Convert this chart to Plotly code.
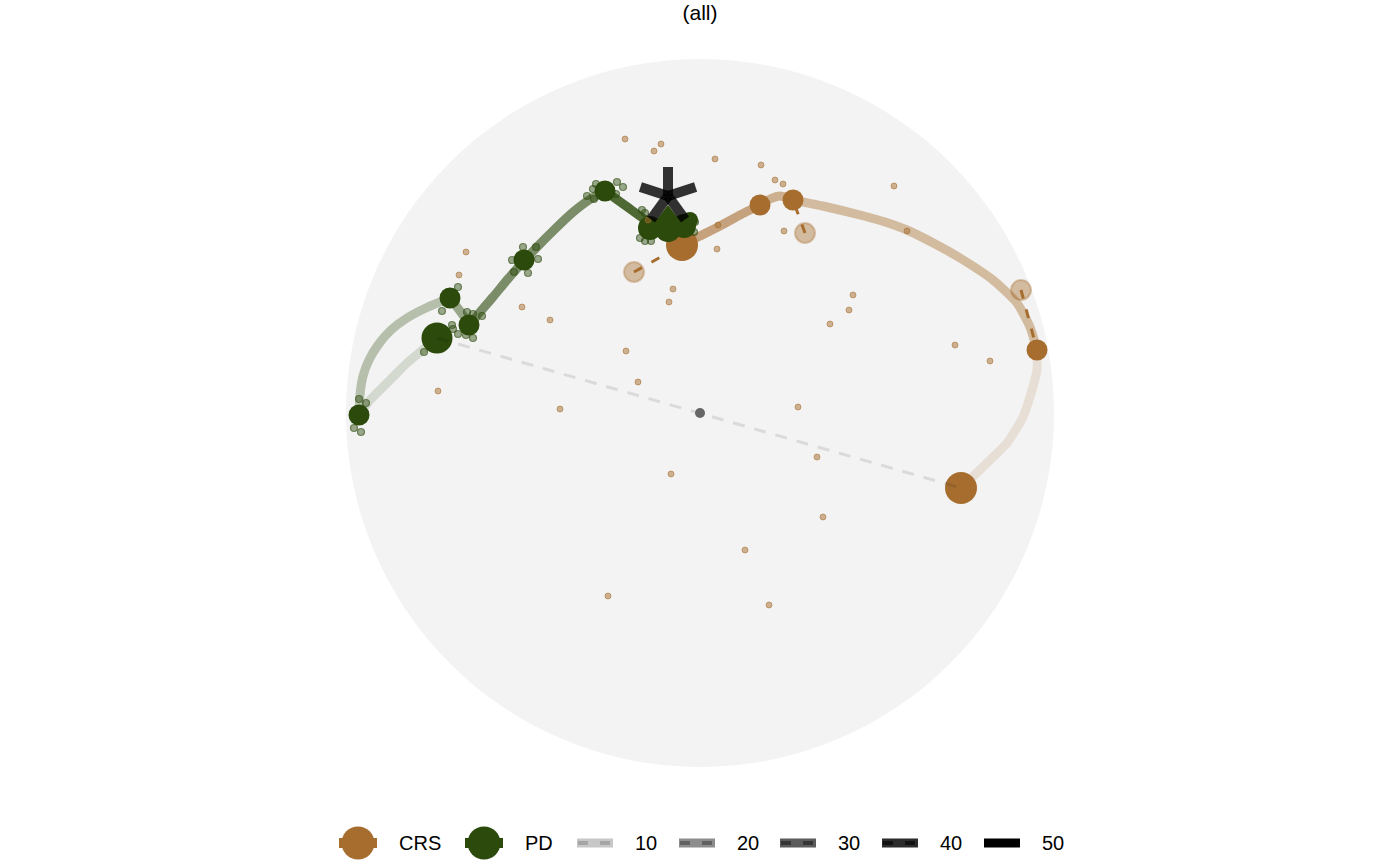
import math
import plotly.graph_objects as go

# ---------------- data (embedding units, disc radius = 354) ----------------
DISC_RADIUS = 354
TITLE = "(all)"

# PD trajectory pieces (fading along the path)
PD_A_X = [-95, -74, -53, -40]
PD_A_Y = [222, 207, 192, 185]
PD_B_X = [-95, -111, -128, -145, -162, -178, -193, -207, -220, -230]
PD_B_Y = [222, 213, 200, 184, 167, 150, 133, 116, 101, 88]
PD_C_X = [-230, -240, -250]
PD_C_Y = [88, 102, 115]
PD_D_X = [-250, -272, -293, -309, -322, -331, -337, -340, -341]
PD_D_Y = [115, 106, 95, 83, 68, 53, 37, 18, -2]
PD_E_X = [-341, -330, -317, -305, -293, -275, -263]
PD_E_Y = [-2, 13, 26, 38, 50, 65, 75]
PD_ALPHA = [0.82, 0.6, 0.45, 0.3, 0.15]

# CRS trajectory pieces
CRS_A_X = [-18, 0, 20, 40, 60]
CRS_A_Y = [168, 177, 187, 198, 208]
CRS_B_X = [60, 70, 80, 93]
CRS_B_Y = [208, 214, 217, 213]
CRS_C_X = [93, 127, 160, 185, 207, 237, 260, 293, 317, 330, 337]
CRS_C_Y = [213, 206, 198, 191, 183, 168, 155, 133, 110, 86, 63]
CRS_D_X = [337, 337, 332, 323, 307, 287, 261]
CRS_D_Y = [63, 43, 23, -4, -30, -50, -75]
CRS_ALPHA = [0.6, 0.5, 0.42, 0.15]

# milestone nodes
PD_NODE_X = [-95, -50, -176, -231, -250, -263, -341, -32, -16, -10]
PD_NODE_Y = [222, 185, 153, 88, 115, 75, -2, 184, 187, 193]
PD_NODE_SIZE = [21, 24, 21, 21, 21, 31, 21, 26, 24, 16]
ROOT_X = [-32]
ROOT_Y = [193]

CRS_NODE_X = [-18, 60, 93, 337, 261]
CRS_NODE_Y = [168, 208, 213, 63, -75]
CRS_NODE_SIZE = [32, 21, 21, 21, 32]

# off-path CRS nodes and the node each is linked to
CRS_GHOST_X = [-66, 105, 321]
CRS_GHOST_Y = [141, 180, 123]
CRS_GHOST_LINK = [0, 2, 3]

# geodesic between the two end points, through the disc centre
GEODESIC_X = [-263, 0, 261]
GEODESIC_Y = [75, 0, -75]
CENTRE_X = [0]
CENTRE_Y = [0]

# single cells
PD_CELL_X = [-341, -334, -346, -339, -276, -248, -242, -247, -242, -258,
             -233, -227, -218, -234, -227, -177, -188, -162, -186, -172, -164,
             -104, -107, -113, -83, -77, -84, -106, -58, -55, -60, -55, -49, -5, -6]
PD_CELL_Y = [14, 10, -15, -19, 61, 88, 79, 84, 126, 102,
             101, 99, 97, 78, 75, 166, 153, 154, 141, 140, 166,
             229, 224, 217, 231, 226, 219, 214, 203, 200, 175, 172, 172, 191, 181]
CRS_CELL_X = [-75, -46, -39, 15, 61, 75, 83, 194, -234, -241, -178, -150, -27, -31,
              18, 17, 84, 207, 153, 149, 130, 255, 290, -74, -62, -262, -140, 98,
              117, -29, 123, 45, -92, 69, -52]
CRS_CELL_Y = [274, 262, 269, 254, 248, 233, 229, 227, 161, 138, 106, 93, 124, 111,
              188, 164, 182, 182, 118, 103, 89, 68, 52, 62, 31, 22, 4, 6,
              -44, -61, -104, -137, -183, -192, 193]

# terminal marker (asterisk)
STAR_X = -32
STAR_Y = 217
STAR_ARM = 29
STAR_ANGLES = [90, 18, -54, -126, 162]

# legend
GROUP_LABELS = ["CRS", "PD"]
WEIGHT_LABELS = ["10", "20", "30", "40", "50"]
WEIGHT_BASE = ["#c7c7c7", "#8d8d8d", "#5b5b5b", "#2c2c2c", "#000000"]
WEIGHT_DASH = ["#a6a6a6", "#626262", "#363636", "#111111", "#000000"]

# ---------------- styling ----------------
CRS_RGB = (166, 109, 46)
PD_RGB = (43, 74, 11)
FONT = "Liberation Sans, Arial, Helvetica, sans-serif"
W, H = 1400, 866
CX, CY = 700, 413  # disc centre in pixels


def rgba(c, a):
    return f"rgba({c[0]},{c[1]},{c[2]},{a})"


fig = go.Figure()


def add_line(x, y, color, width, dash=None, shape="spline", xa="x", ya="y"):
    fig.add_trace(go.Scatter(
        x=x, y=y, mode="lines", xaxis=xa, yaxis=ya,
        line=dict(color=color, width=width, dash=dash, shape=shape, smoothing=0.55),
        hoverinfo="skip", showlegend=False))


def add_markers(x, y, size, color, line_color=None, line_width=0, symbol="circle",
                xa="x", ya="y"):
    fig.add_trace(go.Scatter(
        x=x, y=y, mode="markers", xaxis=xa, yaxis=ya,
        marker=dict(size=size, color=color, symbol=symbol, opacity=1,
                    line=dict(color=line_color or color, width=line_width)),
        hoverinfo="skip", showlegend=False))


# trajectories
for xs, ys, a in zip([PD_E_X, PD_D_X, PD_C_X, PD_B_X, PD_A_X],
                     [PD_E_Y, PD_D_Y, PD_C_Y, PD_B_Y, PD_A_Y],
                     PD_ALPHA[::-1]):
    add_line(xs, ys, rgba(PD_RGB, a), 9)
for xs, ys, a in zip([CRS_D_X, CRS_C_X, CRS_B_X, CRS_A_X],
                     [CRS_D_Y, CRS_C_Y, CRS_B_Y, CRS_A_Y],
                     CRS_ALPHA[::-1]):
    add_line(xs, ys, rgba(CRS_RGB, a), 9)

# ghost nodes and their dashed links
add_markers(CRS_GHOST_X, CRS_GHOST_Y, 20, rgba(CRS_RGB, 0.42), rgba(CRS_RGB, 0.35), 2)
for gx, gy, k in zip(CRS_GHOST_X, CRS_GHOST_Y, CRS_GHOST_LINK):
    add_line([gx, CRS_NODE_X[k]], [gy, CRS_NODE_Y[k]], rgba(CRS_RGB, 1), 3,
             dash="9px,11px", shape="linear")

# milestone nodes
add_markers(CRS_NODE_X, CRS_NODE_Y, CRS_NODE_SIZE, rgba(CRS_RGB, 1))
add_markers(PD_NODE_X, PD_NODE_Y, PD_NODE_SIZE, rgba(PD_RGB, 1))
add_markers(ROOT_X, ROOT_Y, 30, rgba(PD_RGB, 1), symbol="triangle-up")

# geodesic between ends
add_line(GEODESIC_X, GEODESIC_Y, "rgba(0,0,0,0.1)", 3, dash="12px,10px", shape="linear")
add_markers(CENTRE_X, CENTRE_Y, 10, "#666666")

# single cells
add_markers(CRS_CELL_X, CRS_CELL_Y, 6, rgba(CRS_RGB, 0.5), rgba(CRS_RGB, 0.55), 1.0)
add_markers(PD_CELL_X, PD_CELL_Y, 7, rgba(PD_RGB, 0.45), rgba(PD_RGB, 0.6), 1.2)

# asterisk
sx, sy = [], []
for ang in STAR_ANGLES:
    sx += [STAR_X, STAR_X + STAR_ARM * math.cos(math.radians(ang)), None]
    sy += [STAR_Y, STAR_Y + STAR_ARM * math.sin(math.radians(ang)), None]
add_line(sx, sy, "rgba(0,0,0,0.8)", 10, shape="linear")

# ---------------- legend (own pixel axes) ----------------
LEG_Y = 843
GROUP_KEY_X = [358, 484]
WEIGHT_KEY_X = [595, 697, 798, 900, 1002]
for lab, kx, col in zip(GROUP_LABELS, GROUP_KEY_X, [CRS_RGB, PD_RGB]):
    add_line([kx - 19, kx + 19], [LEG_Y, LEG_Y], rgba(col, 1), 10, shape="linear", xa="x2", ya="y2")
    add_markers([kx], [LEG_Y], 33, rgba(col, 1), xa="x2", ya="y2")
    fig.add_annotation(x=kx + 39, y=LEG_Y, xref="x2", yref="y2", text=lab,
                       showarrow=False, xanchor="left", yanchor="middle",
                       font=dict(size=20, color="black", family=FONT))
for lab, kx, cb, cd in zip(WEIGHT_LABELS, WEIGHT_KEY_X, WEIGHT_BASE, WEIGHT_DASH):
    add_line([kx - 18, kx + 18], [LEG_Y, LEG_Y], cb, 9, shape="linear", xa="x2", ya="y2")
    if cb != cd:
        add_line([kx - 17, kx + 17], [LEG_Y, LEG_Y], cd, 4, dash="10px,12px",
                 shape="linear", xa="x2", ya="y2")
    fig.add_annotation(x=kx + 38, y=LEG_Y, xref="x2", yref="y2", text=lab,
                       showarrow=False, xanchor="left", yanchor="middle",
                       font=dict(size=20, color="black", family=FONT))

# background disc
fig.add_shape(type="circle", xref="x", yref="y",
              x0=-DISC_RADIUS, x1=DISC_RADIUS, y0=-DISC_RADIUS, y1=DISC_RADIUS,
              fillcolor="#f3f3f3", line=dict(width=0), layer="below")

fig.update_layout(
    width=W, height=H,
    margin=dict(l=0, r=0, t=0, b=0),
    paper_bgcolor="white", plot_bgcolor="rgba(0,0,0,0)",
    font=dict(family=FONT, size=20, color="black"),
    title=dict(text=TITLE, x=0.5, xanchor="center", y=1 - 13 / H, yanchor="middle",
               yref="container", font=dict(size=21, family=FONT, color="black")),
    xaxis=dict(range=[-CX, W - CX], visible=False, fixedrange=True),
    yaxis=dict(range=[CY - H, CY], visible=False, fixedrange=True),
    xaxis2=dict(range=[0, W], visible=False, overlaying="x", fixedrange=True),
    yaxis2=dict(range=[H, 0], visible=False, overlaying="y", fixedrange=True),
    showlegend=False,
)

fig.write_html("out.html")
